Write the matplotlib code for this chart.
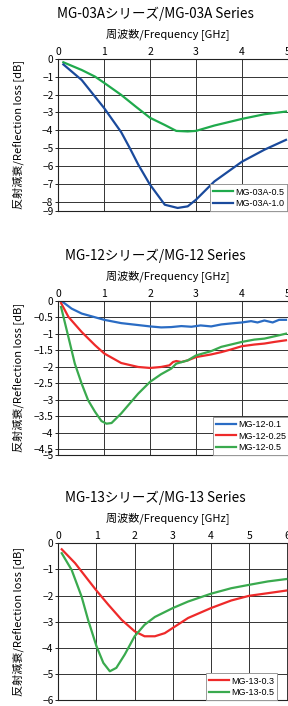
import matplotlib
matplotlib.use("Agg")
import matplotlib.pyplot as plt

plt.rcParams['font.family'] = ['Noto Sans CJK JP', 'DejaVu Sans']

# MG-03A series
f_03a_05 = [0.11, 0.51, 0.8, 1.0, 1.37, 1.7, 2.0, 2.32, 2.57, 2.82, 3.0, 3.4, 4.0, 4.49, 4.96]
db_03a_05 = [-0.2, -0.63, -1.0, -1.35, -2.02, -2.7, -3.3, -3.7, -4.03, -4.06, -4.03, -3.73, -3.36, -3.1, -2.95]
f_03a_10 = [0.11, 0.51, 1.0, 1.37, 1.56, 1.74, 1.99, 2.32, 2.6, 2.82, 3.0, 3.4, 4.0, 4.49, 4.96]
db_03a_10 = [-0.32, -1.19, -2.76, -4.1, -5.0, -5.9, -7.0, -8.15, -8.33, -8.24, -7.87, -6.85, -5.75, -5.08, -4.53]

# MG-12 series
f_12_01 = [0.06, 0.29, 0.51, 1.0, 1.37, 2.0, 2.24, 2.46, 2.68, 2.9, 3.1, 3.33, 3.55, 3.76, 4.0,
           4.2, 4.34, 4.49, 4.67, 4.81, 4.96]
db_12_01 = [0.0, -0.24, -0.39, -0.58, -0.68, -0.78, -0.81, -0.8, -0.77, -0.79, -0.75, -0.78, -0.72,
            -0.69, -0.66, -0.62, -0.66, -0.6, -0.66, -0.58, -0.58]
f_12_025 = [0.06, 0.22, 0.51, 0.8, 1.0, 1.37, 1.74, 2.0, 2.24, 2.42, 2.5, 2.57, 2.68, 2.82, 3.0,
            3.33, 3.55, 3.76, 4.0, 4.27, 4.49, 4.71, 4.96]
db_12_025 = [-0.07, -0.49, -0.95, -1.35, -1.6, -1.89, -2.01, -2.04, -2.01, -1.96, -1.86, -1.83, -1.86,
             -1.81, -1.71, -1.63, -1.56, -1.48, -1.38, -1.33, -1.3, -1.25, -1.2]
f_12_05 = [0.06, 0.22, 0.36, 0.51, 0.65, 0.8, 0.94, 1.05, 1.16, 1.37, 1.74, 2.0, 2.24, 2.46, 2.57,
           2.82, 3.0, 3.33, 3.55, 3.76, 4.0, 4.27, 4.49, 4.71, 4.96]
db_12_05 = [-0.19, -1.1, -1.91, -2.52, -3.02, -3.37, -3.65, -3.73, -3.71, -3.42, -2.82, -2.46, -2.23,
            -2.06, -1.91, -1.81, -1.66, -1.53, -1.4, -1.33, -1.25, -1.18, -1.15, -1.08, -1.0]

# MG-13 series
f_13_03 = [0.09, 0.44, 0.78, 1.0, 1.31, 1.66, 2.0, 2.26, 2.53, 2.79, 3.0, 3.4, 4.0, 4.53, 5.0, 5.49, 5.97]
db_13_03 = [-0.23, -0.76, -1.4, -1.81, -2.35, -2.93, -3.37, -3.56, -3.56, -3.44, -3.24, -2.86, -2.48,
            -2.19, -2.01, -1.91, -1.81]
f_13_05 = [0.09, 0.35, 0.61, 0.78, 1.0, 1.18, 1.35, 1.52, 1.74, 2.0, 2.26, 2.53, 3.0, 3.4, 4.0,
           4.53, 5.0, 5.49, 5.97]
db_13_05 = [-0.38, -1.02, -2.04, -2.93, -3.94, -4.58, -4.9, -4.77, -4.26, -3.56, -3.12, -2.82, -2.48,
            -2.23, -1.93, -1.72, -1.59, -1.46, -1.37]

ticks_03a = [0, -1, -2, -3, -4, -5, -6, -7, -8, -8.5]
labels_03a = ['0', '−1', '−2', '−3', '−4', '−5', '−6', '−7', '−8', '−9']
ticks_12 = [0, -0.5, -1, -1.5, -2, -2.5, -3, -3.5, -4, -4.5, -4.68]
labels_12 = ['0', '−0.5', '−1', '−1.5', '−2', '−2.5', '−3', '−3.5', '−4', '−4.5', '−5']
ticks_13 = [0, -1, -2, -3, -4, -5, -6]
labels_13 = ['0', '−1', '−2', '−3', '−4', '−5', '−6']

W, H = 288, 706
fig = plt.figure(figsize=(W / 100, H / 100), dpi=100)


def rect(left, right, top, bottom):
    return [left / W, 1 - bottom / H, (right - left) / W, (bottom - top) / H]


def panel(top, bottom, xmax, px_per_ghz, ylim, yt, ylab, title, series, leg_left):
    right = 58.3 + px_per_ghz * (xmax + 0.06)
    ax = fig.add_axes(rect(58.3, right, top, bottom))
    for f, d, c, name in series:
        ax.plot(f, d, color=c, lw=1.6, label=name, solid_joinstyle='round')
    ax.set_xlim(0, xmax + 0.06)
    ax.set_ylim(ylim, 0)
    ax.set_xticks(range(0, xmax + 1))
    ax.set_yticks(yt)
    ax.set_yticklabels(ylab)
    ax.xaxis.tick_top()
    ax.tick_params(axis='x', length=0, labelsize=7.5, pad=1.5)
    ax.tick_params(axis='y', length=2, width=0.6, labelsize=7.3, pad=1.5)
    ax.grid(True, color='#333333', lw=0.7)
    for s in ax.spines.values():
        s.set_color('#222222')
        s.set_linewidth(0.8)
    fig.text(168 / W, 1 - (top - 25) / H, '周波数/Frequency [GHz]', ha='center', va='center', fontsize=8)
    fig.text(155 / W, 1 - (top - 45) / H, title, ha='center', va='center', fontsize=9.7)
    fig.text(18 / W, 1 - (top + bottom) / 2 / H, '反射減衰/Reflection loss [dB]', rotation=90,
             ha='center', va='center', fontsize=8)
    leg = ax.legend(loc='lower left', bbox_to_anchor=(leg_left / W, 1 - bottom / H),
                    bbox_transform=fig.transFigure, fancybox=False, framealpha=1,
                    edgecolor='#999999', handlelength=2.2, handletextpad=0.2,
                    borderpad=0.35, labelspacing=0.25, borderaxespad=0,
                    prop={'family': ['Liberation Sans', 'DejaVu Sans'], 'size': 6.5})
    leg.get_frame().set_linewidth(0.7)
    return ax


panel(58.7, 211, 5, 45.9, -8.5, ticks_03a, labels_03a, 'MG-03Aシリーズ/MG-03A Series',
      [(f_03a_05, db_03a_05, '#1faa4c', 'MG-03A-0.5'),
       (f_03a_10, db_03a_10, '#1a4a9c', 'MG-03A-1.0')], 210)

panel(300.7, 455, 5, 45.9, -4.68, ticks_12, labels_12, 'MG-12シリーズ/MG-12 Series',
      [(f_12_01, db_12_01, '#2a6cc4', 'MG-12-0.1'),
       (f_12_025, db_12_025, '#ee2a2a', 'MG-12-0.25'),
       (f_12_05, db_12_05, '#3aaa4e', 'MG-12-0.5')], 213)

panel(543.3, 700, 6, 38.17, -6, ticks_13, labels_13, 'MG-13シリーズ/MG-13 Series',
      [(f_13_03, db_13_03, '#ee2a2a', 'MG-13-0.3'),
       (f_13_05, db_13_05, '#3aaa4e', 'MG-13-0.5')], 206)

fig.savefig('out.png', dpi=100)
